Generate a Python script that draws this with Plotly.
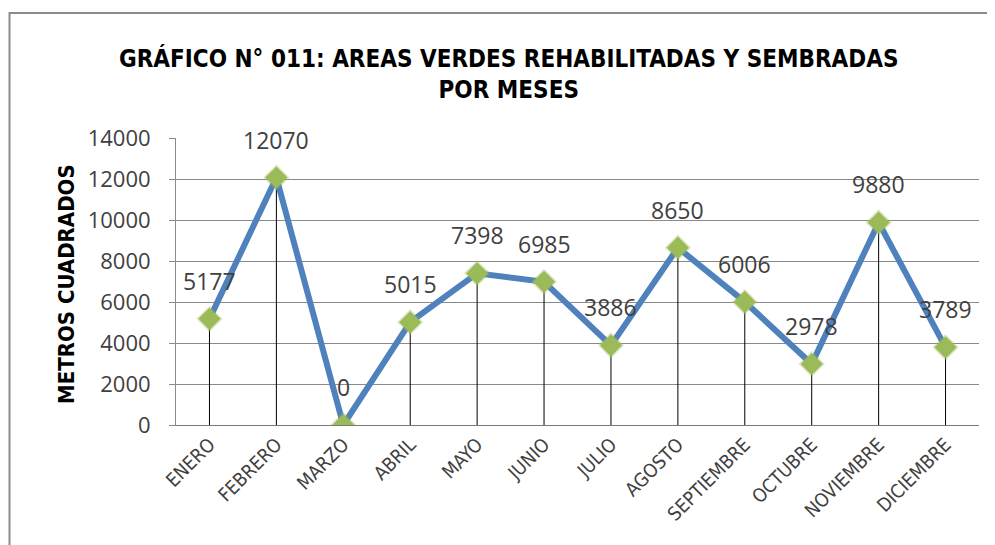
import plotly.graph_objects as go

meses = ["ENERO", "FEBRERO", "MARZO", "ABRIL", "MAYO", "JUNIO", "JULIO",
         "AGOSTO", "SEPTIEMBRE", "OCTUBRE", "NOVIEMBRE", "DICIEMBRE"]
valores = [5177, 12070, 0, 5015, 7398, 6985, 3886, 8650, 6006, 2978, 9880, 3789]
y_ticks = [0, 2000, 4000, 6000, 8000, 10000, 12000, 14000]
y_ticktext = ["0", "2000", "4000", "6000", "8000", "10000", "12000", "14000"]

TITLE = "GRÁFICO N° 011: AREAS VERDES REHABILITADAS Y SEMBRADAS<br>POR MESES"
Y_TITLE = "METROS CUADRADOS"

OFF = 8  # page body margin
W, H = 995 - OFF, 545 - OFF
L, R, T, B = 176 - OFF, 995 - 979, 138 - OFF, 120
pw = W - L - R
ph = H - T - B

def px_x(p):
    return (p - OFF - L) / pw

def px_y(p):
    return (H - B - (p - OFF)) / ph

narrow = "DejaVu Sans Condensed, Liberation Sans Narrow, sans-serif"
txt = "#404040"

fig = go.Figure()

# drop lines
fig.add_trace(go.Scatter(
    x=meses, y=valores, mode="markers",
    marker=dict(size=1, opacity=0),
    error_y=dict(type="data", symmetric=False, array=[0] * len(valores),
                 arrayminus=valores, color="black", thickness=1, width=0),
    hoverinfo="skip", showlegend=False,
))

# main line
fig.add_trace(go.Scatter(
    x=meses, y=valores, mode="lines+markers",
    line=dict(color="#4F81BD", width=6),
    marker=dict(symbol="diamond", size=17, color="#9BBB59",
                line=dict(color="rgba(155,187,89,0.35)", width=3)),
    showlegend=False,
))

annotations = []
for m, v in zip(meses, valores):
    annotations.append(dict(x=m, y=v, xref="x", yref="y", text=str(v),
                            showarrow=False, yshift=38,
                            font=dict(family="Open Sans", size=23, color=txt)))

annotations.append(dict(x=px_x(508), y=px_y(74), xref="paper", yref="paper",
                        text="<b>" + TITLE + "</b>", showarrow=False,
                        xanchor="center", yanchor="middle",
                        font=dict(family=narrow, size=24, color="#000000"),
                        align="center"))
annotations.append(dict(x=px_x(66), y=px_y(284), xref="paper", yref="paper",
                        text="<b>" + Y_TITLE + "</b>", showarrow=False, textangle=-90,
                        xanchor="center", yanchor="middle",
                        font=dict(family=narrow, size=22, color="#000000")))

fig.update_layout(
    width=W, height=H,
    margin=dict(l=L, r=R, t=T, b=B),
    paper_bgcolor="white", plot_bgcolor="white",
    annotations=annotations,
    shapes=[dict(type="rect", xref="paper", yref="paper",
                 x0=px_x(9.5), x1=px_x(1010), y0=px_y(570), y1=px_y(13),
                 line=dict(color="#8c8c8c", width=2), layer="below")],
)
fig.update_yaxes(range=[0, 14000], tickvals=y_ticks, ticktext=y_ticktext, showgrid=True,
                 gridcolor="#8a8a8a", gridwidth=1, showline=True,
                 linecolor="#8a8a8a", linewidth=1, ticks="outside", ticklen=6,
                 tickcolor="#8a8a8a", zeroline=False, ticklabelstandoff=14,
                 tickfont=dict(family="Open Sans", size=22, color=txt))
fig.update_xaxes(range=[-0.5, 11.5], showgrid=False, showline=True,
                 linecolor="#7a7a7a", linewidth=1,
                 tickangle=-45, ticks="", zeroline=False,
                 tickfont=dict(family=narrow, size=19, color=txt))

fig.write_html("out.html")
